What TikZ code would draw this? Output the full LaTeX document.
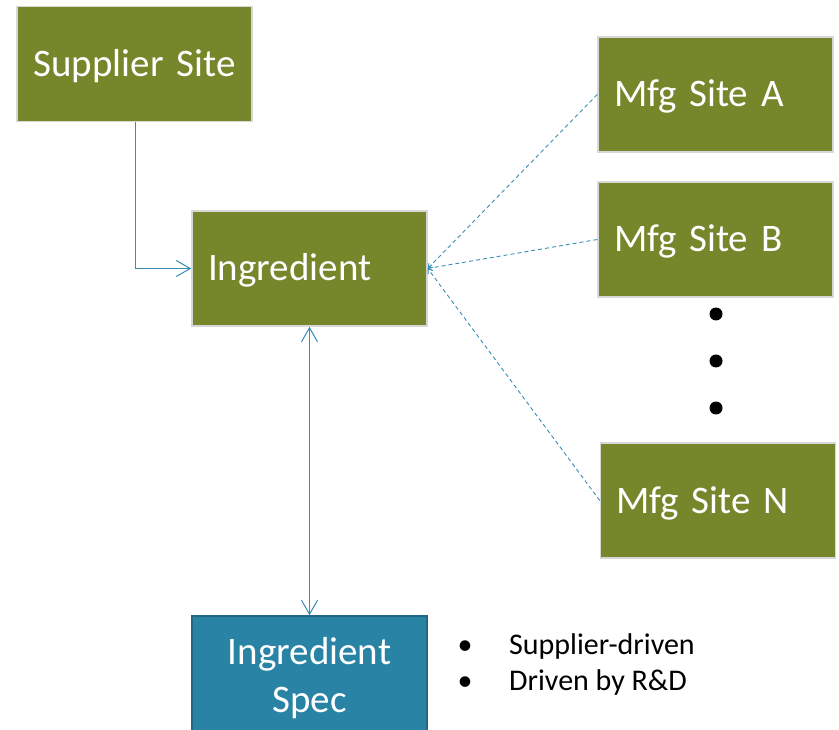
\documentclass[tikz,border=0pt]{standalone}
\usepackage{fontspec}
\setmainfont{Carlito}
\usetikzlibrary{arrows.meta}
\definecolor{olivebox}{RGB}{118,134,43}
\definecolor{boxgray}{RGB}{215,215,215}
\definecolor{specfill}{RGB}{41,131,164}
\definecolor{specdraw}{RGB}{33,104,132}
\definecolor{linkblue}{RGB}{58,141,180}
\begin{document}
\begin{tikzpicture}[x=1pt,y=-1pt,
  box/.style={draw=boxgray, line width=1.5pt, fill=olivebox, text=white,
    minimum height=115pt, text width=203pt, inner xsep=16pt, inner ysep=0pt,
    align=left, font=\fontsize{39}{46}\selectfont, text height=25pt, text depth=0pt},
  centred/.style={align=center},
  specbox/.style={draw=specdraw, line width=1.5pt, fill=specfill,
    minimum width=235pt, minimum height=124pt, inner sep=0pt},
  spectext/.style={text=white, inner sep=0pt, font=\fontsize{39}{46}\selectfont},
  bullettext/.style={inner sep=0pt, font=\fontsize{30}{36}\selectfont},
  dotmark/.style={circle, fill=black, minimum size=13pt, inner sep=0pt},
  link/.style={draw=linkblue, line width=1pt},
  openarrow/.style={-{Straight Barb[length=14pt,width=16pt,line width=1pt]}},
  twoarrow/.style={{Straight Barb[length=14pt,width=16pt,line width=1pt]}-{Straight Barb[length=14pt,width=16pt,line width=1pt]}},
  dashlink/.style={draw=linkblue, line width=0.9pt, dash pattern=on 4pt off 3pt,
    -{Straight Barb[length=4pt,width=6pt,line width=0.8pt]}}
]
\useasboundingbox (0,0) rectangle (839,730);

\node[box, centred] (sup) at (134.5,64) {Supplier Site};
\node[box] (ing) at (309.5,268.5) {Ingredient};
\node[box] (mfa) at (715.5,94.5) {Mfg Site A};
\node[box] (mfb) at (715.5,239.5) {Mfg Site B};
\node[box] (mfn) at (718,500.5) {Mfg Site N};

\node[specbox] (spec) at (309.5,678) {};
\node[spectext, anchor=base] (specl1) at (309.5,664) {Ingredient};
\node[spectext, anchor=base] (specl2) at (309.5,712) {Spec};

\node[dotmark] (d1) at (716,314) {};
\node[dotmark] (d2) at (716,361) {};
\node[dotmark] (d3) at (716,408) {};

\node[bullettext, anchor=base] (b1) at (465,654) {•};
\node[bullettext, anchor=base west] (t1) at (509,654) {Supplier-driven};
\node[bullettext, anchor=base] (b2) at (465,690) {•};
\node[bullettext, anchor=base west] (t2) at (509,690) {Driven by R\&D};

\draw[link, openarrow] (sup.south -| 135,0) |- (ing.west);
\draw[link, twoarrow] (spec.north) -- (ing.south);
\draw[dashlink] (mfa.west) -- (ing.east);
\draw[dashlink] (mfb.west) -- (ing.east);
\draw[dashlink] (mfn.west) -- (ing.east);
\end{tikzpicture}
\end{document}
